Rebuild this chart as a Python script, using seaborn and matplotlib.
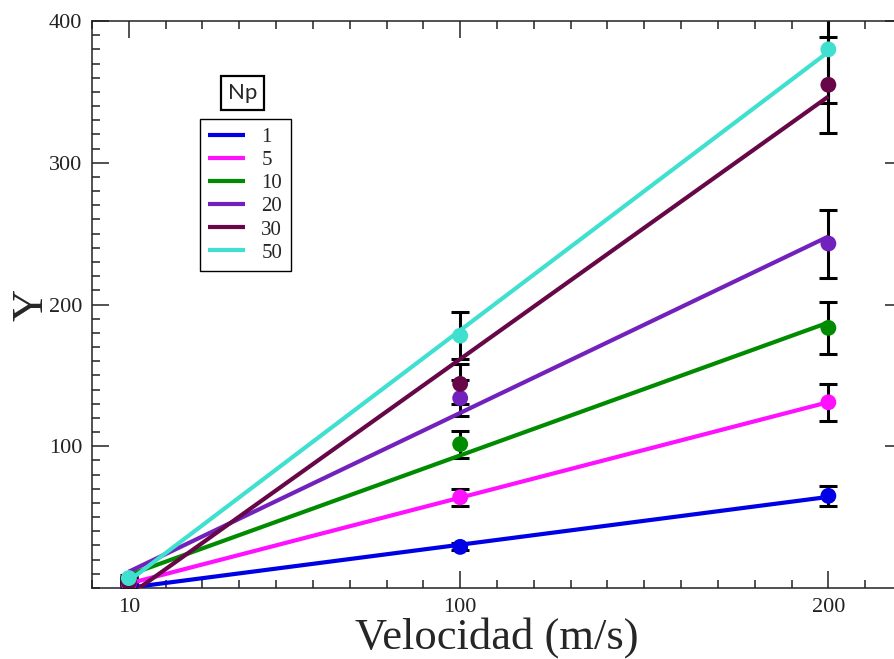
import numpy as np
import pandas as pd
import matplotlib
matplotlib.use("Agg")
import matplotlib.pyplot as plt
from matplotlib.ticker import MultipleLocator, FixedLocator
import seaborn as sns

# Velocity values (m/s) and the measured Y for each Np
velocidad = [10, 100, 200]
np_labels = ["1", "5", "10", "20", "30", "50"]

y_np1 = [1, 29, 65]
y_np5 = [3, 64, 131]
y_np10 = [5, 101.5, 183.5]
y_np20 = [6, 134, 243]
y_np30 = [4, 144, 355]
y_np50 = [7, 178, 380]

err_np1 = [2, 2.5, 7]
err_np5 = [2, 6, 13]
err_np10 = [2, 9.5, 18.5]
err_np20 = [2, 12.5, 24]
err_np30 = [2, 14, 34]
err_np50 = [2, 16.5, 38]

colores = ["#0000e6", "#ff10ff", "#008b00", "#7221bc", "#670748", "#40e0d0"]

series_y = [y_np1, y_np5, y_np10, y_np20, y_np30, y_np50]
series_err = [err_np1, err_np5, err_np10, err_np20, err_np30, err_np50]

df = pd.DataFrame({
    "Velocidad": np.tile(velocidad, len(np_labels)),
    "Y": np.concatenate(series_y),
    "err": np.concatenate(series_err),
    "Np": np.repeat(np_labels, len(velocidad)),
})

sns.set_style("white")
plt.rcParams["font.family"] = ["Liberation Serif", "DejaVu Serif"]

fig = plt.figure(figsize=(8.95, 6.59), dpi=100)
ax = fig.add_axes([92 / 895, 1 - 588 / 659, 810 / 895, 567 / 659])

for i, lab in enumerate(np_labels):
    sub = df[df["Np"] == lab]
    ax.errorbar(sub["Velocidad"], sub["Y"], yerr=sub["err"], fmt="none",
                ecolor="black", elinewidth=2.2, capsize=6.8, capthick=2.2,
                zorder=2 + i * 0.1)
    sns.regplot(data=sub, x="Velocidad", y="Y", ax=ax, ci=None, scatter=False,
                truncate=True, color=colores[i], label=lab,
                line_kws={"linewidth": 3.0, "zorder": 3 + i * 0.1,
                          "solid_capstyle": "butt"})

sns.scatterplot(data=df, x="Velocidad", y="Y", hue="Np", hue_order=np_labels,
                palette=colores, s=130, linewidth=0, legend=False, ax=ax,
                zorder=5)

ax.set_xlim(0, 220)
ax.set_ylim(0, 400)
ax.xaxis.set_major_locator(FixedLocator([10, 100, 200]))
ax.xaxis.set_minor_locator(MultipleLocator(10))
ax.yaxis.set_major_locator(FixedLocator([100, 200, 300, 400]))
ax.yaxis.set_minor_locator(MultipleLocator(10))
ax.tick_params(which="both", direction="in", bottom=True, left=True,
               top=True, right=True, colors="#222222", width=1.1)
ax.tick_params(which="major", length=12, labelsize=16, pad=7)
ax.tick_params(which="minor", length=6)
for s in ax.spines.values():
    s.set_linewidth(1.1)
    s.set_color("#222222")

ax.set_xlabel("Velocidad (m/s)", fontsize=32, labelpad=0)
ax.set_ylabel("Y", fontsize=32, labelpad=-2)

leg = ax.legend(loc="upper left", bbox_to_anchor=(0.1333, 0.827),
                borderaxespad=0, frameon=True, fancybox=False,
                edgecolor="black", framealpha=1, fontsize=15,
                handlelength=1.75, handletextpad=0.8, labelspacing=0.17,
                borderpad=0.4)
leg.get_frame().set_linewidth(1.0)
for h in leg.get_lines():
    h.set_linewidth(3.0)

ax.text(0.1858, 0.873, "Np", transform=ax.transAxes, ha="center",
        va="center", fontsize=16, family=["Lato", "DejaVu Sans"],
        bbox=dict(boxstyle="square,pad=0.3", facecolor="white",
                  edgecolor="black", linewidth=1.6))

fig.savefig("out.png", dpi=100)
